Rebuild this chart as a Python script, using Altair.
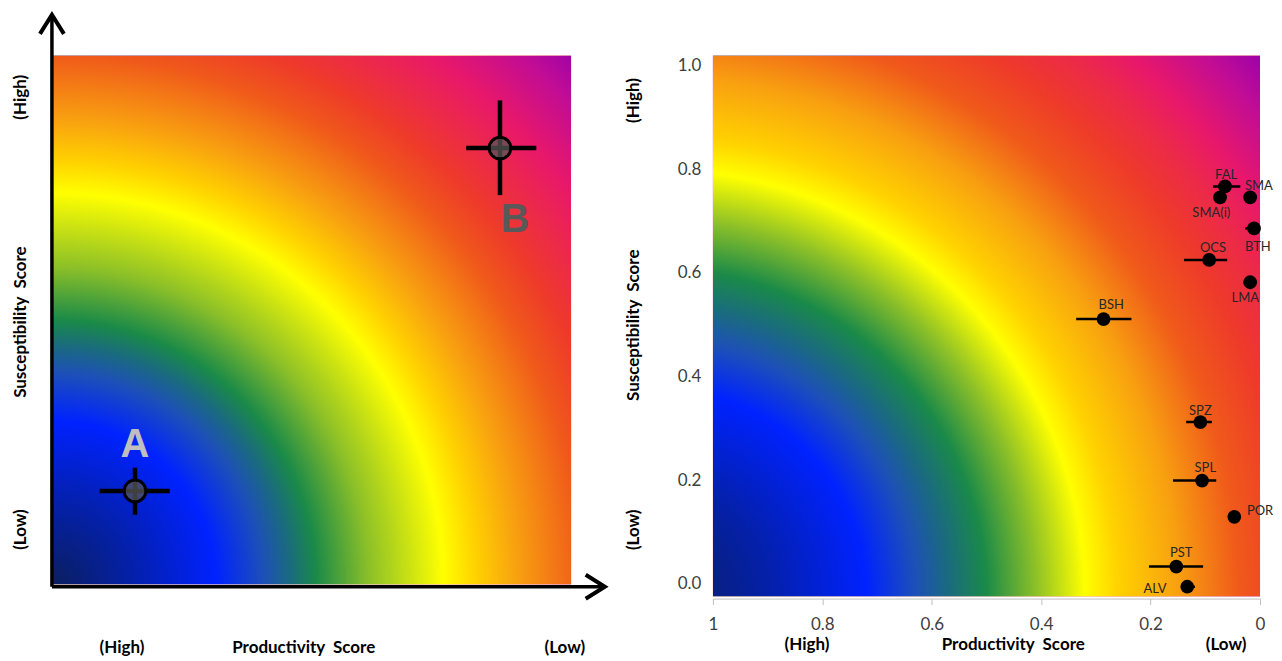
import altair as alt
import pandas as pd

# ---------------- data ----------------
# Left (conceptual) panel: two example stocks
concept_names = ["A", "B"]
concept_prod = [0.160, 0.863]
concept_susc = [0.177, 0.825]
concept_prod_lo = [0.092, 0.798]
concept_prod_hi = [0.227, 0.933]
concept_susc_lo = [0.132, 0.736]
concept_susc_hi = [0.221, 0.915]
concept_label_prod = [0.160, 0.892]
concept_label_susc = [0.264, 0.689]
concept_label_colors = ["#bfbfbf", "#595959"]

# Right panel: stocks with productivity / susceptibility scores
stock_names = ["FAL", "SMA(i)", "SMA", "BTH", "OCS", "LMA", "BSH", "SPZ", "SPL", "POR", "PST", "ALV"]
stock_prod = [0.064, 0.073, 0.018, 0.011, 0.093, 0.018, 0.286, 0.109, 0.106, 0.047, 0.153, 0.133]
stock_susc = [0.767, 0.746, 0.746, 0.686, 0.625, 0.582, 0.511, 0.312, 0.199, 0.129, 0.033, -0.006]
stock_prod_lo = [0.036, None, None, -0.005, 0.060, None, 0.235, 0.088, 0.080, None, 0.104, 0.119]
stock_prod_hi = [0.086, None, None, 0.027, 0.139, None, 0.336, 0.135, 0.159, None, 0.203, 0.144]
label_prod = [0.062, 0.089, 0.002, 0.004, 0.086, 0.027, 0.272, 0.109, 0.100, 0.000, 0.144, 0.192]
label_susc = [0.789, 0.715, 0.767, 0.650, 0.648, 0.551, 0.538, 0.334, 0.224, 0.141, 0.060, -0.010]

x_ticks = [0, 0.2, 0.4, 0.6, 0.8, 1]
y_ticks = [0, 0.2, 0.4, 0.6, 0.8, 1.0]

# gradient colour stops (distance from the high-productivity / low-susceptibility corner)
left_stop_dist = [0.00, 0.15, 0.31, 0.40, 0.45, 0.50, 0.60, 0.74, 0.80, 0.88, 1.00, 1.08, 1.15, 1.23, 1.34, 1.42]
right_stop_dist = [0.00, 0.20, 0.38, 0.47, 0.53, 0.60, 0.69, 0.78, 0.84, 0.95, 1.06, 1.16, 1.24, 1.31, 1.41, 1.49]
stop_colors = ["#0b1f5e", "#0420a8", "#0022ff", "#1d50b8", "#1a6a80", "#1a8a48", "#8cc028", "#ffff00",
               "#ffd200", "#f8a010", "#f05a1a", "#ee3a2a", "#ec2a48", "#e8186a", "#c00c96", "#9800ac"]

FONT = "Lato"

# ---------------- helpers ----------------
def grad(dists, cx, cy, rmax):
    return alt.RadialGradient(
        gradient="radial",
        stops=[alt.GradientStop(offset=min(d / rmax, 1.0), color=c) for d, c in zip(dists, stop_colors)],
        x1=cx, y1=cy, r1=0, x2=cx, y2=cy, r2=rmax,
    )

# ---------------- left panel ----------------
lx = alt.Scale(domain=[0, 1], nice=False, zero=False)
ly = alt.Scale(domain=[0, 1], nice=False, zero=False)

def LX(f, **kw):
    return alt.X(f, type="quantitative", scale=lx, axis=None, **kw)

def LY(f, **kw):
    return alt.Y(f, type="quantitative", scale=ly, axis=None, **kw)

bg_left = alt.Chart(pd.DataFrame({"x": [0], "x2": [1], "y": [0], "y2": [1]})).mark_rect(
    fill=grad(left_stop_dist, 0.0094, 1.0, 1.42), strokeWidth=0
).encode(x=LX("x"), x2="x2", y=LY("y"), y2="y2")

arrow_lines = alt.Chart(pd.DataFrame({"x": [0, 0], "x2": [0, 1.063], "y": [-0.004, -0.004], "y2": [1.075, -0.004]})).mark_rule(
    color="black", strokeWidth=3.5
).encode(x=LX("x"), x2="x2", y=LY("y"), y2="y2")

arrow_up = alt.Chart(pd.DataFrame({"x": [0], "y": [1.077]})).mark_point(
    shape="M-1,1.6L0,0L1,1.6", size=576, filled=False, color="black", strokeWidth=4, strokeJoin="miter", opacity=1
).encode(x=LX("x"), y=LY("y"))

arrow_right = alt.Chart(pd.DataFrame({"x": [1.065], "y": [-0.004]})).mark_point(
    shape="M-1.6,-1L0,0L-1.6,1", size=576, filled=False, color="black", strokeWidth=4, strokeJoin="miter", opacity=1
).encode(x=LX("x"), y=LY("y"))

concept = pd.DataFrame({
    "name": concept_names, "prod": concept_prod, "susc": concept_susc,
    "plo": concept_prod_lo, "phi": concept_prod_hi, "slo": concept_susc_lo, "shi": concept_susc_hi,
    "lp": concept_label_prod, "ls": concept_label_susc,
})

c_h = alt.Chart(concept).mark_rule(color="black", strokeWidth=4.5).encode(x=LX("plo"), x2="phi", y=LY("susc"))
c_v = alt.Chart(concept).mark_rule(color="black", strokeWidth=4.5).encode(x=LX("prod"), y=LY("slo"), y2="shi")
c_pts = alt.Chart(concept).mark_point(
    filled=True, fill="#555555", fillOpacity=0.75, stroke="black", strokeWidth=3, strokeOpacity=1, size=470
).encode(x=LX("prod"), y=LY("susc"))
c_lab = alt.Chart(concept).mark_text(font="Liberation Sans", fontSize=40, fontWeight="bold", baseline="middle").encode(
    x=LX("lp"), y=LY("ls"), text="name:N",
    color=alt.Color("name:N", scale=alt.Scale(domain=concept_names, range=concept_label_colors), legend=None),
)

left_bottom = alt.Chart(pd.DataFrame({"t": ["(High)", "Productivity\u00a0 Score", "(Low)"], "x": [0.135, 0.485, 0.988], "y": [-0.119] * 3})).mark_text(
    font=FONT, fontSize=17, fontWeight="bold", color="black", baseline="middle"
).encode(x=LX("x"), y=LY("y"), text="t:N")

left_side = alt.Chart(pd.DataFrame({"t": ["(High)", "Susceptibility\u00a0 Score", "(Low)"], "x": [-0.060] * 3, "y": [0.921, 0.496, 0.104]})).mark_text(
    font=FONT, fontSize=17, fontWeight="bold", color="black", baseline="middle", angle=270
).encode(x=LX("x"), y=LY("y"), text="t:N")

left = alt.layer(bg_left, arrow_lines, arrow_up, arrow_right, c_h, c_v, c_pts, c_lab, left_bottom, left_side).properties(
    width=520, height=530
)

# ---------------- right panel ----------------
rx = alt.Scale(domain=[0, 1], reverse=True, nice=False, zero=False)
ry = alt.Scale(domain=[-0.025, 1.02], nice=False, zero=False)
x_axis = alt.Axis(values=x_ticks, format="~g", title=None, grid=False, domainColor="#bfbfbf", tickColor="#bfbfbf",
                  tickSize=6, labelFontSize=17, labelColor="#404040", labelFont=FONT, labelPadding=12,
                  labelFlush=False, offset=2)
y_axis = alt.Axis(values=y_ticks, format=".1f", title=None, grid=False, domain=False, ticks=False,
                  labelFontSize=17, labelColor="#404040", labelFont=FONT, labelPadding=12)

def RX(f, **kw):
    return alt.X(f, type="quantitative", scale=rx, axis=x_axis, **kw)

def RY(f, **kw):
    return alt.Y(f, type="quantitative", scale=ry, axis=y_axis, **kw)

bg_right = alt.Chart(pd.DataFrame({"x": [1], "x2": [0], "y": [-0.025], "y2": [1.02]})).mark_rect(
    fill=grad(right_stop_dist, -0.10, 0.9945, 1.49), strokeWidth=0
).encode(x=RX("x"), x2="x2", y=RY("y"), y2="y2")

stocks = pd.DataFrame({
    "name": stock_names, "prod": stock_prod, "susc": stock_susc,
    "lo": stock_prod_lo, "hi": stock_prod_hi, "lp": label_prod, "ls": label_susc,
})

s_err = alt.Chart(stocks).transform_filter("isValid(datum.lo)").mark_rule(
    color="black", strokeWidth=2.5, clip=True
).encode(x=RX("lo"), x2="hi", y=RY("susc"))
s_pts = alt.Chart(stocks).mark_circle(color="black", size=190, opacity=1).encode(x=RX("prod"), y=RY("susc"))
s_lab = alt.Chart(stocks).mark_text(font=FONT, fontSize=13, color="#262626", baseline="middle").encode(
    x=RX("lp"), y=RY("ls"), text="name:N"
)

right_bottom = alt.Chart(pd.DataFrame({"t": ["(High)", "Productivity\u00a0 Score", "(Low)"], "x": [0.828, 0.451, 0.062], "y": [-0.118] * 3})).mark_text(
    font=FONT, fontSize=17, fontWeight="bold", color="black", baseline="middle"
).encode(x=RX("x"), y=RY("y"), text="t:N")

right_side = alt.Chart(pd.DataFrame({"t": ["(High)", "Susceptibility\u00a0 Score", "(Low)"], "x": [1.144] * 3, "y": [0.933, 0.499, 0.104]})).mark_text(
    font=FONT, fontSize=17, fontWeight="bold", color="black", baseline="middle", angle=270
).encode(x=RX("x"), y=RY("y"), text="t:N")

right = alt.layer(bg_right, s_err, s_pts, s_lab, right_bottom, right_side).properties(width=548, height=542)

chart = alt.hconcat(left, right, spacing=142, bounds="flush").properties(
    padding={"left": 3, "top": -2, "right": 0, "bottom": 0}
).configure_view(stroke=None)

chart.save("out.html", embed_options={"renderer": "svg", "actions": False})
